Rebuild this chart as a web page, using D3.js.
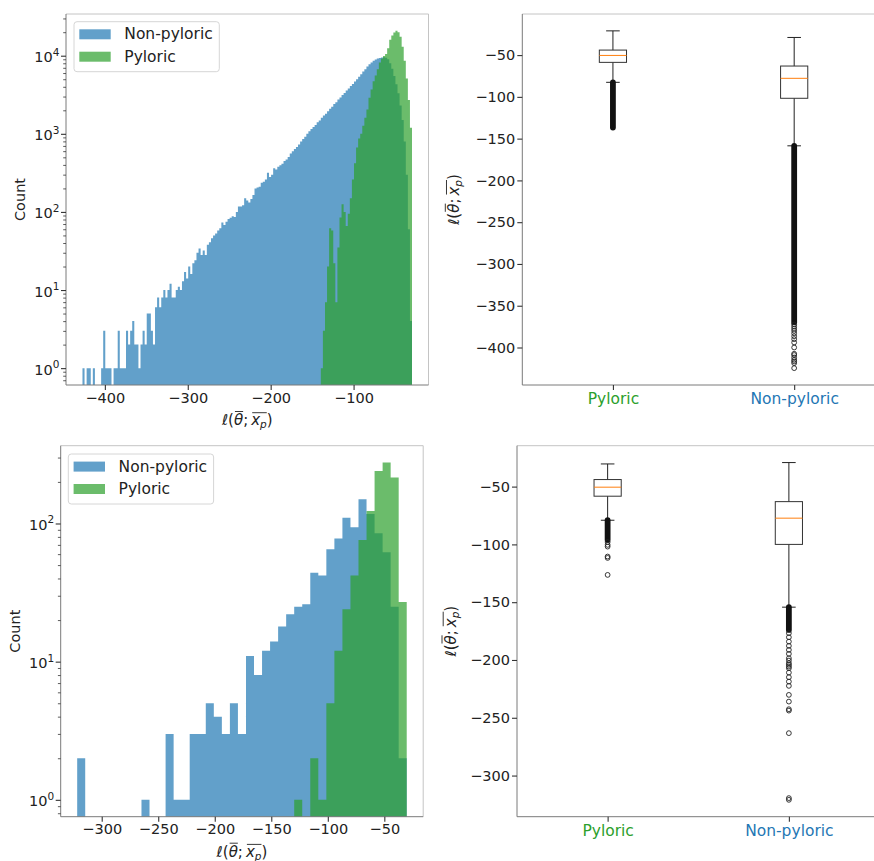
<!DOCTYPE html>
<html>
<head>
<meta charset="utf-8">
<script src="https://d3js.org/d3.v7.min.js"></script>
<style>
body { margin: 0; background: #fff; }
svg text { font-family: "DejaVu Sans", sans-serif; fill: #222; }
</style>
</head>
<body>
<svg id="chart" width="874" height="861"></svg>
<script>
// ---- histogram data (counts per bin) ----
// top row: fine bins
var topBinStart = -427, topBinWidth = 2.5;
var topNonPyloric = [
  1,0,1,1,0,1,0,0,0,1,
  3,1,1,1,0,1,1,3,1,1,
  1,3,2,3,4,2,2,1,2,3,
  2,5,5,3,2,6,8,6,8,10,
  8,10,12,8,8,10,11,10,13,17,
  14,20,16,22,24,30,34,28,32,28,
  38,41,46,50,53,58,62,73,68,75,
  81,84,88,86,100,117,117,122,150,140,
  132,146,165,200,205,210,236,243,260,318,
  280,300,362,350,378,395,415,450,468,505,
  560,600,640,680,730,800,860,920,1000,1080,
  1150,1220,1300,1410,1480,1600,1720,1810,1950,2100,
  2220,2400,2540,2740,2910,3130,3330,3580,3810,4090,
  4350,4680,4990,5380,5780,6270,6720,7260,7750,8210,
  8600,8950,9230,9380,9480,9530,9450,9000,8000,6800,
  5500,4300,3300,2300,1500,800,300,60,4];
var topPyloricFirstBin = 115;
var topPyloric = [
  1,3,7,20,62,58,22,7,35,85,
  125,100,66,95,150,260,420,670,870,1000,
  1270,1600,2050,2900,3700,4700,5600,6700,8200,9200,
  9900,10500,12500,16000,18100,19800,20800,20000,17500,13000,
  8600,5100,2700,1200];

// bottom row: coarse bins
var bottomBinStart = -321.7, bottomBinWidth = 7.11;
var bottomNonPyloric = [
  2,0,0,0,0,0,0,0,1,0,
  0,3,1,1,3,3,5,4,3,5,
  3,11,8,12,14,18,22,25,26,44,
  42,65,78,110,94,150,117,85,62,25,
  2];
var bottomPyloric = [
  0,0,0,0,0,0,0,0,0,0,
  0,0,0,0,0,0,0,0,0,0,
  0,0,0,0,0,0,0,1,0,2,
  1,5,12,24,42,76,123,240,276,215,
  27];

var topHistXTicks = [-400, -300, -200, -100];
var bottomHistXTicks = [-300, -250, -200, -150, -100, -50];
var topHistYTicks = [1, 10, 100, 1000, 10000];
var bottomHistYTicks = [1, 10, 100];

// ---- box plot data ----
var boxCategories = ["Pyloric", "Non-pyloric"];

var topWhiskerHigh = [-21, -28.9];
var topQ3 = [-44.0, -63.1];
var topMedian = [-50.4, -77.8];
var topQ1 = [-58.7, -101.7];
var topWhiskerLow = [-82.6, -158.6];
var topDenseFliers = [[-136.7, -82.6], [-370, -158.6]];
var topFliers = [[], [-372.5, -375, -377.5, -380, -383, -386.5, -390, -394, -400,
  -407.5, -409, -412, -414.8, -416.7, -418.7, -424.7]];
var topBoxYTicks = [-50, -100, -150, -200, -250, -300, -350, -400];

var bottomWhiskerHigh = [-30.4, -29.2];
var bottomQ3 = [-43.9, -63.0];
var bottomMedian = [-50.5, -77.3];
var bottomQ1 = [-58.3, -100.0];
var bottomWhiskerLow = [-79.1, -154.3];
var bottomDenseFliers = [[-96.1, -79.1], [-174, -154.3]];
var bottomFliers = [[-98, -100.4, -101.9, -110.5, -111.7, -126.4],
  [-176.8, -180.3, -184.1, -187.8, -191.3, -194.7, -198.5, -200.5, -202.8, -204.2,
   -205.7, -207.1, -210.9, -214.9, -218.7, -222.4, -230.2, -236, -242.6, -243.8,
   -263.3, -319.5, -321]];
var bottomBoxYTicks = [-50, -100, -150, -200, -250, -300];

// ---- drawing ----
var svg = d3.select("#chart");
var W = 362.5, H = 371;
var blue = "#1f77b4", green = "#2ca02c";
var tickFont = 14.5;

function minusFmt(d) { return d < 0 ? "\u2212" + Math.abs(d) : "" + d; }

function frame(g) {
  g.append("line").attr("x1", 0).attr("y1", 0).attr("x2", W).attr("y2", 0).attr("stroke", "#c4c4c4");
  g.append("line").attr("x1", W).attr("y1", 0).attr("x2", W).attr("y2", H).attr("stroke", "#c4c4c4");
  g.append("line").attr("x1", 0).attr("y1", 0).attr("x2", 0).attr("y2", H).attr("stroke", "#7a7a7a");
  g.append("line").attr("x1", 0).attr("y1", H).attr("x2", W).attr("y2", H).attr("stroke", "#7a7a7a");
}

function styleAxis(a) {
  a.select(".domain").remove();
  a.attr("font-size", tickFont).attr("color", "#333");
  a.selectAll("line").attr("stroke-width", 1.1);
}

// step outline of a histogram, one closed shape per run of non-empty bins
function stepPath(counts, first, start, width, x, y) {
  var p = "", open = false, base = H + 5;
  counts.forEach(function(c, i) {
    var x0 = x(start + (first + i) * width), x1 = x(start + (first + i + 1) * width);
    if (c > 0) {
      if (!open) { p += "M" + x0 + "," + base; open = true; }
      p += "V" + y(c) + "H" + x1;
    } else if (open) { p += "V" + base + "Z"; open = false; }
  });
  if (open) p += "V" + base + "Z";
  return p;
}

// l(theta-bar; x_p-bar) drawn piece by piece so the overlines can be measured
function mathLabel(g, size) {
  var parts = [
    {t: "\u2113", it: true}, {t: "(", it: false}, {t: "\u03b8", it: true, bar: "a"},
    {t: ";\u2009", it: false}, {t: "x", it: true, bar: "b"},
    {t: "p", it: true, sub: true, bar: "b"}, {t: ")", it: false}];
  var cx = 0, bars = {}, nodes = [];
  parts.forEach(function(p) {
    var t = g.append("text")
      .attr("y", p.sub ? size * 0.22 : 0)
      .style("font-size", (p.sub ? size * 0.7 : size) + "px")
      .style("font-style", p.it ? "italic" : "normal")
      .text(p.t);
    var w = t.node().getComputedTextLength();
    nodes.push([t, cx]);
    if (p.bar) {
      if (!bars[p.bar]) bars[p.bar] = [cx + 1, cx + w];
      bars[p.bar][1] = cx + w;
    }
    cx += w;
  });
  nodes.forEach(function(n) { n[0].attr("x", n[1] - cx / 2); });
  var barY = {a: -size * 0.9, b: -size * 0.82};
  Object.keys(bars).forEach(function(k) {
    g.append("line")
      .attr("x1", bars[k][0] - cx / 2).attr("x2", bars[k][1] - cx / 2)
      .attr("y1", barY[k]).attr("y2", barY[k])
      .attr("stroke", "#222").attr("stroke-width", 0.9);
  });
}

function legend(g, lx, ly, items) {
  var lg = g.append("g").attr("transform", "translate(" + lx + "," + ly + ")");
  lg.append("rect").attr("width", 145.3).attr("height", 50).attr("rx", 3)
    .attr("fill", "#fff").attr("fill-opacity", 0.8).attr("stroke", "#d6d6d6");
  items.forEach(function(it, i) {
    var cy = 12.6 + i * 22.4;
    lg.append("rect").attr("x", 5.3).attr("y", cy - 5).attr("width", 31.4).attr("height", 10)
      .attr("fill", it.color).attr("fill-opacity", 0.7);
    lg.append("text").attr("x", 50.3).attr("y", cy + 5).style("font-size", "15.5px").text(it.label);
  });
}

function histPanel(id, left, top, binStart, binWidth, nBins, series, xTicks, yTicks, legendPos, labelY) {
  var g = svg.append("g").attr("transform", "translate(" + left + "," + top + ")");
  var lo = binStart, hi = binStart + nBins * binWidth, pad = (hi - lo) * 0.05;
  var x = d3.scaleLinear().domain([lo - pad, hi + pad]).range([0, W]);
  var lmax = Math.log10(d3.max(series, function(s) { return d3.max(s.counts); }));
  var y = d3.scaleLog().domain([Math.pow(10, -0.05 * lmax), Math.pow(10, 1.05 * lmax)]).range([H, 0]);

  g.append("clipPath").attr("id", id).append("rect").attr("width", W).attr("height", H);
  var bars = g.append("g").attr("clip-path", "url(#" + id + ")");
  series.forEach(function(s) {
    bars.append("path")
      .attr("d", stepPath(s.counts, s.first, binStart, binWidth, x, y))
      .attr("fill", s.color).attr("fill-opacity", 0.7);
  });

  frame(g);

  g.append("g").attr("transform", "translate(0," + H + ")")
    .call(d3.axisBottom(x).tickValues(xTicks).tickSize(5).tickPadding(2.5).tickFormat(minusFmt))
    .call(styleAxis);

  var minors = y.ticks().filter(function(v) { return yTicks.indexOf(v) < 0; });
  g.append("g").call(d3.axisLeft(y).tickValues(minors).tickSize(2.8).tickFormat(""))
    .call(styleAxis).selectAll("line").attr("stroke-width", 0.8);
  g.append("g").call(d3.axisLeft(y).tickValues(yTicks).tickSize(5).tickFormat(""))
    .call(styleAxis);
  yTicks.forEach(function(v) {
    var t = g.append("text").attr("x", -6.5).attr("y", y(v) + 6.5)
      .attr("text-anchor", "end").style("font-size", tickFont + "px");
    t.append("tspan").text("10");
    t.append("tspan").attr("dy", -6.5).style("font-size", "10.5px").text(Math.round(Math.log10(v)));
  });

  g.append("text").attr("transform", "translate(" + labelY + "," + (H / 2) + ") rotate(-90)")
    .attr("text-anchor", "middle").style("font-size", tickFont + "px").text("Count");

  mathLabel(g.append("g").attr("transform", "translate(" + (W / 2) + "," + (H + 40) + ")"), 15);

  legend(g, legendPos[0], legendPos[1], [
    {label: "Non-pyloric", color: blue},
    {label: "Pyloric", color: green}]);
}

function boxPanel(left, top, wHigh, q3, med, q1, wLow, dense, fliers, yTicks, labelX) {
  var g = svg.append("g").attr("transform", "translate(" + left + "," + top + ")");
  var all = wHigh.concat(d3.merge(dense), d3.merge(fliers));
  var lo = d3.min(all), hi = d3.max(all), pad = (hi - lo) * 0.05;
  var y = d3.scaleLinear().domain([lo - pad, hi + pad]).range([H, 0]);
  var x = d3.scaleLinear().domain([0.5, 2.5]).range([0, W]);
  var half = 0.075, cap = 0.0375, r = 2.4;

  boxCategories.forEach(function(c, i) {
    var p = i + 1, cx = x(p);
    var b = g.append("g");
    b.append("line").attr("x1", cx).attr("x2", cx).attr("y1", y(q3[i])).attr("y2", y(wHigh[i])).attr("stroke", "#222");
    b.append("line").attr("x1", cx).attr("x2", cx).attr("y1", y(q1[i])).attr("y2", y(wLow[i])).attr("stroke", "#222");
    [wHigh[i], wLow[i]].forEach(function(v) {
      b.append("line").attr("x1", x(p - cap)).attr("x2", x(p + cap)).attr("y1", y(v)).attr("y2", y(v)).attr("stroke", "#222");
    });
    b.append("rect").attr("x", x(p - half)).attr("width", x(p + half) - x(p - half))
      .attr("y", y(q3[i])).attr("height", y(q1[i]) - y(q3[i]))
      .attr("fill", "none").attr("stroke", "#333");
    b.append("line").attr("x1", x(p - half)).attr("x2", x(p + half))
      .attr("y1", y(med[i])).attr("y2", y(med[i])).attr("stroke", "#ff7f0e");
    var d = dense[i];
    b.append("rect").attr("x", cx - r - 0.5).attr("width", 2 * r + 1)
      .attr("y", y(d[1]) - r - 0.5).attr("height", y(d[0]) - y(d[1]) + 2 * r + 1)
      .attr("rx", r + 0.5).attr("fill", "#111");
    b.selectAll("circle").data(fliers[i]).enter().append("circle")
      .attr("cx", cx).attr("cy", function(v) { return y(v); }).attr("r", r)
      .attr("fill", "none").attr("stroke", "#222").attr("stroke-width", 0.9);
  });

  frame(g);

  var xa = g.append("g").attr("transform", "translate(0," + H + ")")
    .call(d3.axisBottom(x).tickValues([1, 2]).tickSize(5).tickPadding(3)
      .tickFormat(function(d) { return boxCategories[d - 1]; }))
    .call(styleAxis);
  xa.selectAll("text").style("font-size", "15.5px")
    .style("fill", function(d) { return d === 1 ? green : blue; });

  g.append("g").call(d3.axisLeft(y).tickValues(yTicks).tickSize(5).tickPadding(2).tickFormat(minusFmt))
    .call(styleAxis);

  mathLabel(g.append("g").attr("transform", "translate(" + labelX + "," + (H / 2) + ") rotate(-90)"), 15);
}

histPanel("clipTop", 66, 14, topBinStart, topBinWidth, topNonPyloric.length,
  [{counts: topNonPyloric, first: 0, color: blue},
   {counts: topPyloric, first: topPyloricFirstBin, color: green}],
  topHistXTicks, topHistYTicks, [8, 7.7], -41);

histPanel("clipBottom", 60.7, 445.7, bottomBinStart, bottomBinWidth, bottomNonPyloric.length,
  [{counts: bottomNonPyloric, first: 0, color: blue},
   {counts: bottomPyloric, first: 0, color: green}],
  bottomHistXTicks, bottomHistYTicks, [7.6, 8.3], -41);

boxPanel(522.3, 14, topWhiskerHigh, topQ3, topMedian, topQ1, topWhiskerLow,
  topDenseFliers, topFliers, topBoxYTicks, -63.5);

boxPanel(517, 445.7, bottomWhiskerHigh, bottomQ3, bottomMedian, bottomQ1, bottomWhiskerLow,
  bottomDenseFliers, bottomFliers, bottomBoxYTicks, -61.5);
</script>
</body>
</html>
